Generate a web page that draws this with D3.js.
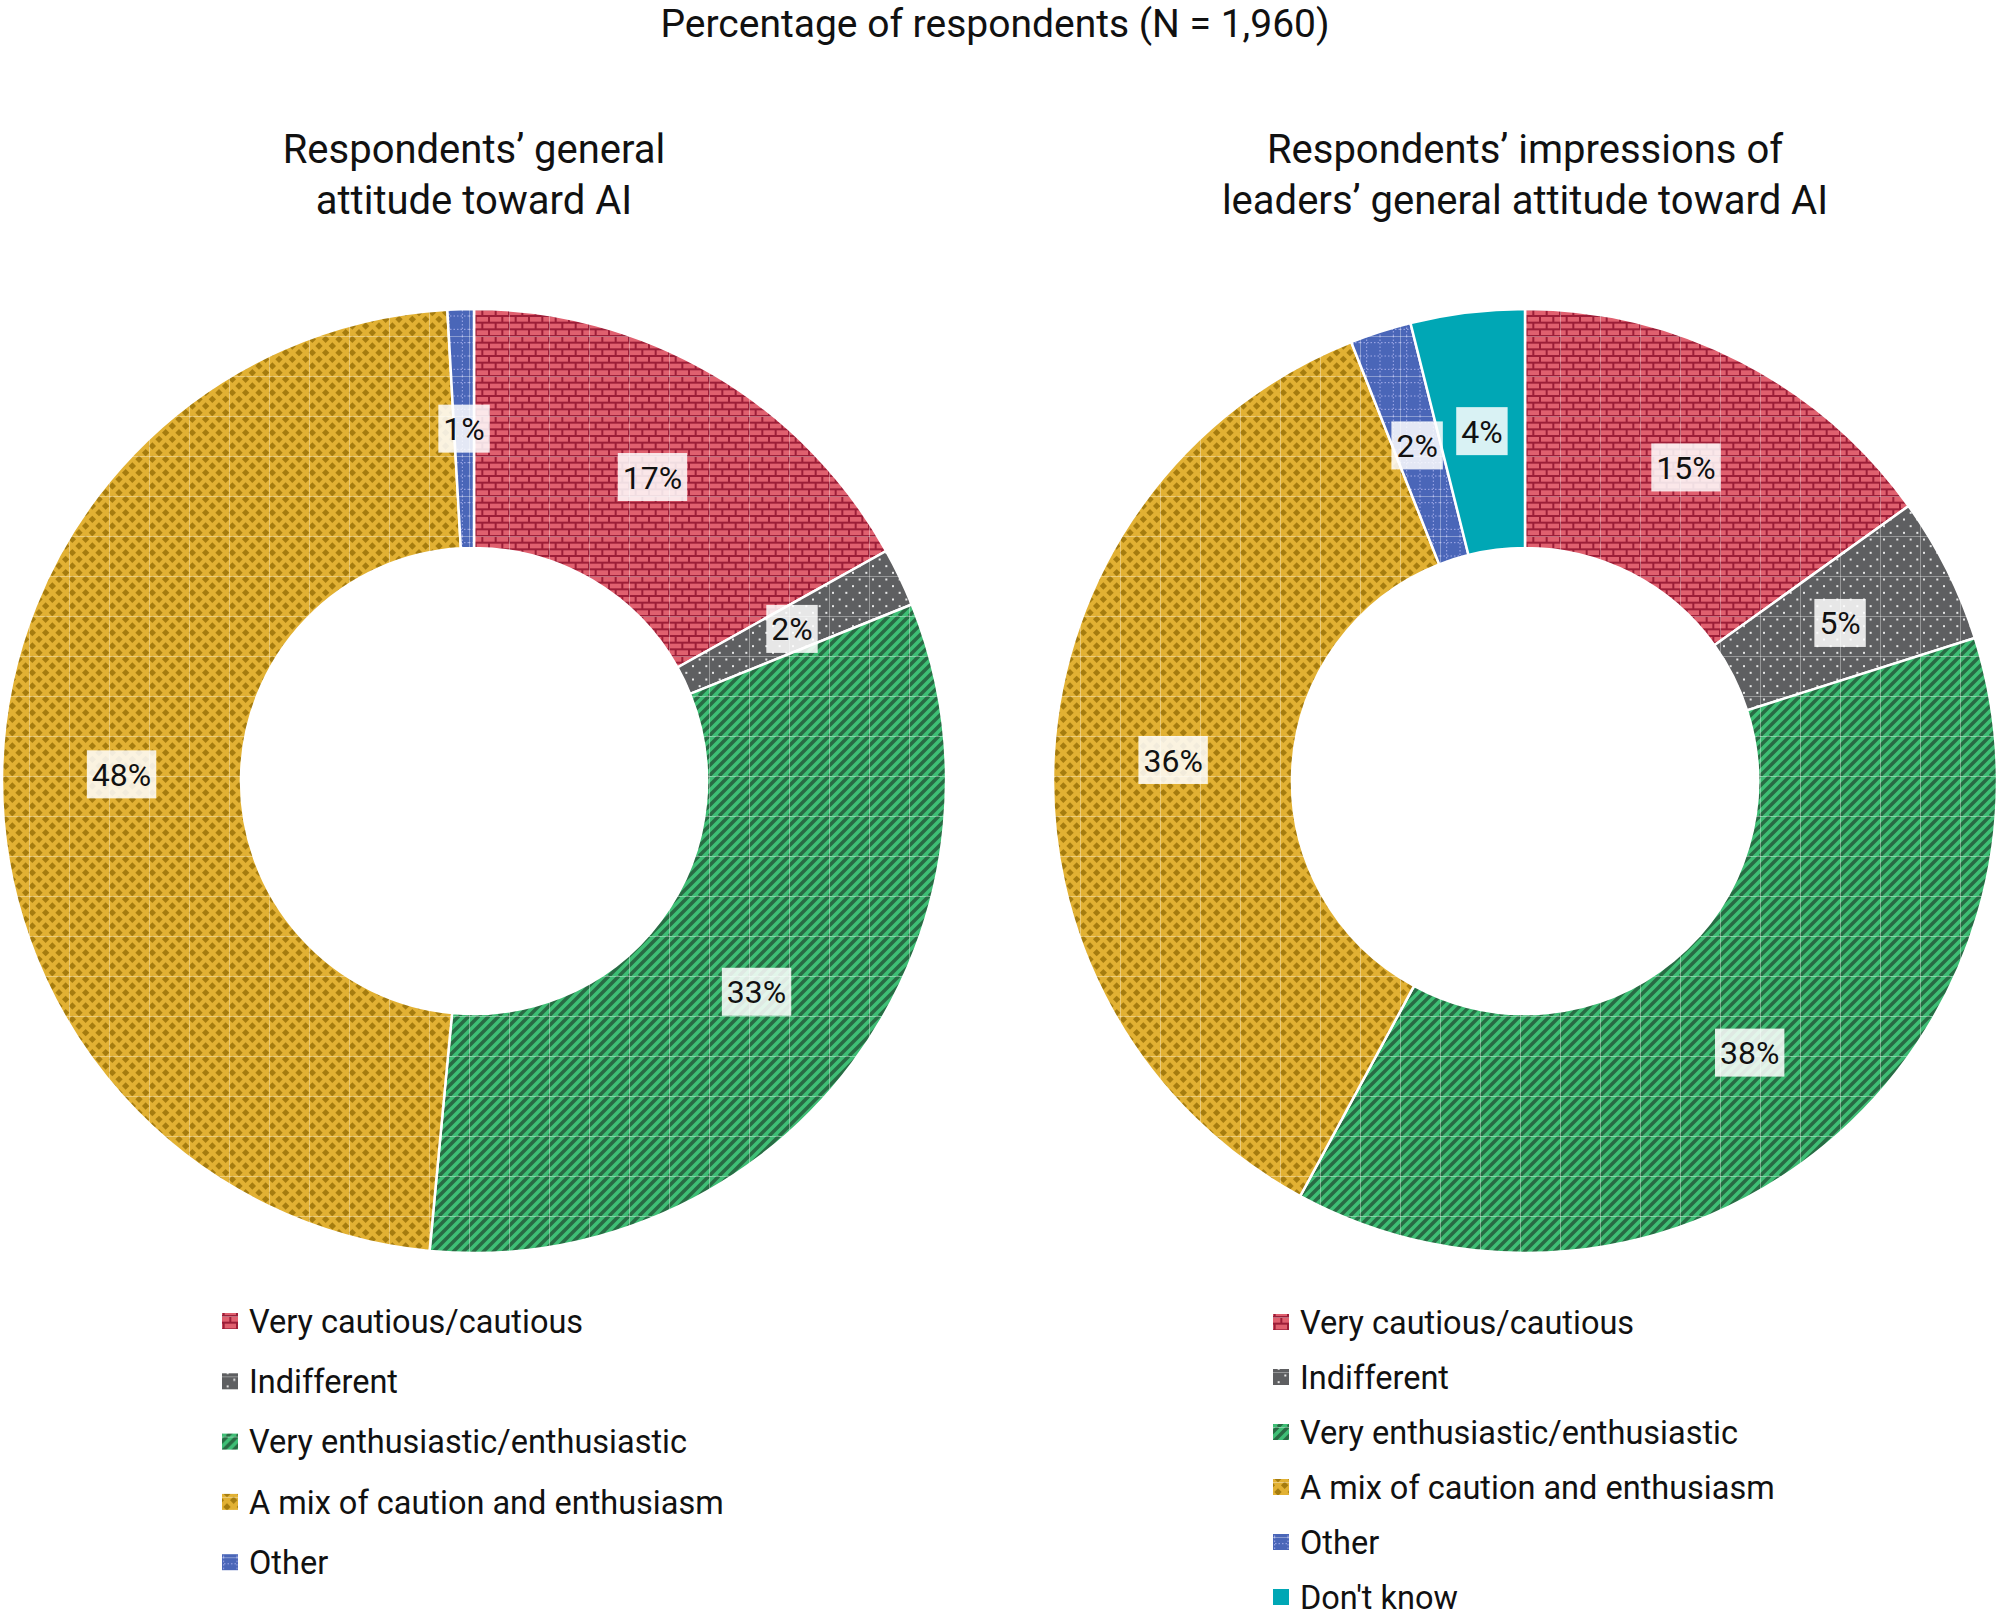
<!DOCTYPE html>
<html>
<head>
<meta charset="utf-8">
<script src="https://cdn.jsdelivr.net/npm/d3@7"></script>
<style>
  body { margin: 0; background: #fff; }
  svg text { font-family: Roboto, "Noto Sans", sans-serif; fill: #111; }
</style>
</head>
<body>
<svg id="chart"></svg>
<script>
// categories and values
const categories = [
  "Very cautious/cautious",
  "Indifferent",
  "Very enthusiastic/enthusiastic",
  "A mix of caution and enthusiasm",
  "Other",
  "Don't know"
];
const respondentValues = [16.9, 2.0, 32.6, 47.6, 0.9];
const leaderValues = [15.1, 5.0, 37.8, 36.1, 2.1, 3.9];
const respondentLabels = ["17%", "2%", "33%", "48%", "1%"];
const leaderLabels = ["15%", "5%", "38%", "36%", "2%", "4%"];

const mainTitle = "Percentage of respondents (N = 1,960)";
const leftTitle = ["Respondents’ general", "attitude toward AI"];
const rightTitle = ["Respondents’ impressions of", "leaders’ general attitude toward AI"];

const width = 2000;
const height = 1618;
const outerR = 472;
const innerR = 233;

const svg = d3.select("#chart")
  .attr("width", width)
  .attr("height", height);

const defs = svg.append("defs");

// pattern fills, 40px tiles with a faint seam line like the original
const T = 40, s = T / 3, h = T / 6;

function makePattern(id, bg) {
  const p = defs.append("pattern")
    .attr("id", id)
    .attr("patternUnits", "userSpaceOnUse")
    .attr("width", T)
    .attr("height", T)
    .attr("patternTransform", "translate(-5,-5)");
  p.append("rect").attr("width", T).attr("height", T).attr("fill", bg);
  return p;
}
function addSeam(p) {
  p.append("path")
    .attr("d", `M0.5,0V${T}M0,0.5H${T}`)
    .attr("stroke", "rgba(255,255,255,0.35)")
    .attr("stroke-width", 1)
    .attr("fill", "none");
}

// bricks
const brick = makePattern("p0", "#E0606F");
for (let j = 0; j < 6; j++) {
  brick.append("rect").attr("x", 0).attr("y", j * h - 1).attr("width", T).attr("height", 2).attr("fill", "#9C1E38");
  for (let i = -1; i < 4; i++) {
    const x = i * s + (j % 2) * s / 2;
    brick.append("rect").attr("x", x - 1).attr("y", j * h).attr("width", 2).attr("height", h).attr("fill", "#9C1E38");
  }
}
brick.append("rect").attr("x", 0).attr("y", T - 1).attr("width", T).attr("height", 1).attr("fill", "#9C1E38");
addSeam(brick);

// dots
const dots = makePattern("p1", "#5E5F61");
for (let j = 0; j < 6; j++) {
  for (let i = 0; i < 3; i++) {
    dots.append("rect")
      .attr("x", i * s + (j % 2) * s / 2 + 3)
      .attr("y", j * h + 2.5)
      .attr("width", 2).attr("height", 2)
      .attr("fill", "#fff").attr("opacity", 0.85);
  }
}
addSeam(dots);

// stripes
const stripes = makePattern("p2", "#3EBF75");
for (let x0 = -40; x0 <= 40; x0 += 10) {
  stripes.append("line")
    .attr("x1", x0).attr("y1", T)
    .attr("x2", x0 + T).attr("y2", 0)
    .attr("stroke", "#286B44")
    .attr("stroke-width", 3.6);
}
addSeam(stripes);

// diamonds
const diam = makePattern("p3", "#E2B133");
for (let j = -1; j <= 6; j++) {
  for (let i = -1; i <= 3; i++) {
    const cx = i * s + (j % 2 !== 0 ? s / 2 : 0) + s / 4;
    const cy = j * h + h / 2;
    const r = 3.7;
    diam.append("path")
      .attr("d", `M${cx},${cy - r}L${cx + r},${cy}L${cx},${cy + r}L${cx - r},${cy}Z`)
      .attr("fill", "#A57C0F");
  }
}
addSeam(diam);

// dotted grid
const grid = makePattern("p4", "#4A66B8");
for (let i = 0; i < 3; i++) {
  const v = i * s + s / 2;
  grid.append("line").attr("x1", v).attr("y1", 0).attr("x2", v).attr("y2", T)
    .attr("stroke", "#A3ACEA").attr("stroke-width", 1).attr("stroke-dasharray", "1.5,2");
  grid.append("line").attr("x1", 0).attr("y1", v).attr("x2", T).attr("y2", v)
    .attr("stroke", "#A3ACEA").attr("stroke-width", 1).attr("stroke-dasharray", "1.5,2");
}
addSeam(grid);

const fills = ["url(#p0)", "url(#p1)", "url(#p2)", "url(#p3)", "url(#p4)", "#00A7B5"];

// title
svg.append("text")
  .attr("x", 995)
  .attr("y", 37)
  .attr("text-anchor", "middle")
  .style("font-size", "39px")
  .text(mainTitle);

const pie = d3.pie().sort(null).value(d => d.value);
const arc = d3.arc().innerRadius(innerR).outerRadius(outerR);

function drawDonut(cx, values, labels, titleLines, legendX, legendY0, legendStep) {
  const data = values.map((v, i) => ({ value: v, label: labels[i], cat: categories[i], i }));

  const title = svg.append("text")
    .attr("text-anchor", "middle")
    .style("font-size", "40px");
  titleLines.forEach((line, k) => {
    title.append("tspan").attr("x", cx).attr("y", 163 + k * 51).text(line);
  });

  const g = svg.append("g").attr("transform", `translate(${cx}, 781)`);

  g.selectAll(".slice")
    .data(pie(data))
    .join("path")
    .attr("class", "slice")
    .attr("d", arc)
    .attr("fill", d => fills[d.data.i])
    .attr("stroke", "#fff")
    .attr("stroke-width", 2.5);

  const lab = g.selectAll(".lab")
    .data(pie(data))
    .join("g")
    .attr("class", "lab")
    .attr("transform", d => `translate(${arc.centroid(d)})`);

  lab.append("text")
    .attr("text-anchor", "middle")
    .attr("dy", "0.36em")
    .style("font-size", "32px")
    .text(d => d.data.label);

  lab.each(function () {
    const t = d3.select(this).select("text");
    const b = t.node().getBBox();
    d3.select(this).insert("rect", "text")
      .attr("x", b.x - 5)
      .attr("y", -24)
      .attr("width", b.width + 10)
      .attr("height", 48)
      .attr("fill", "#fff")
      .attr("opacity", 0.85);
  });

  // legend
  const leg = svg.append("g")
    .selectAll("g")
    .data(data)
    .join("g")
    .attr("transform", (d, i) => `translate(${legendX}, ${legendY0 + i * legendStep})`);

  leg.append("rect")
    .attr("x", 0)
    .attr("y", -8)
    .attr("width", 16)
    .attr("height", 16)
    .attr("fill", d => fills[d.i]);

  leg.append("text")
    .attr("x", 27)
    .attr("dy", "0.36em")
    .style("font-size", "32.5px")
    .text(d => d.cat);
}

drawDonut(474, respondentValues, respondentLabels, leftTitle, 222, 1321, 60.3);
drawDonut(1525, leaderValues, leaderLabels, rightTitle, 1273, 1322, 55);
</script>
</body>
</html>
